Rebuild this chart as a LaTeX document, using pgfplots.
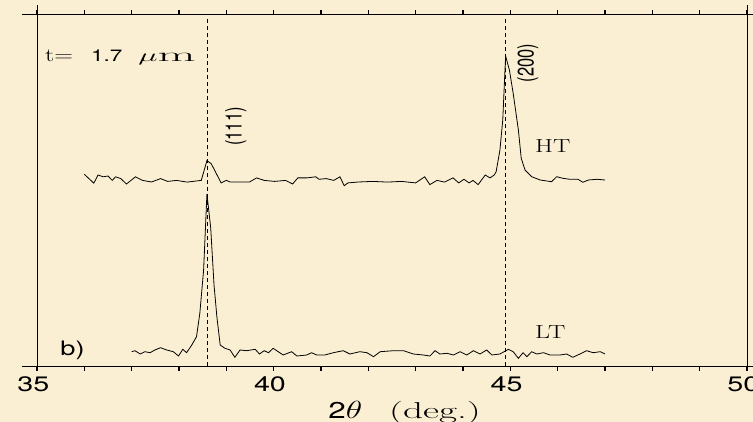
\documentclass[border=0pt]{standalone}
\usepackage{pgfplots}
\pgfplotsset{compat=1.18}
\usepackage{graphicx}
\usepackage{fontspec}
\setmainfont{Latin Modern Roman}[FakeStretch=1.37]
\setsansfont{TeX Gyre Heros}[FakeStretch=1.37]
\newfontfamily\rotsf{TeX Gyre Heros}
\definecolor{paper}{RGB}{250,239,210}
\newcommand{\wide}[1]{\scalebox{1.37}[1]{#1}}

\pgfplotstableread{
x y
36.00 191.7
36.20 182.8
36.29 191.0
36.40 189.2
36.50 190.0
36.59 185.6
36.66 189.2
36.77 187.4
36.89 182.0
37.08 189.2
37.23 185.6
37.42 184.0
37.61 187.4
37.76 184.6
37.95 185.6
38.17 183.9
38.47 185.6
38.59 205.3
38.68 202.4
38.89 183.1
39.00 185.6
39.08 184.0
39.27 184.0
39.49 184.0
39.64 188.1
39.80 185.6
40.02 184.6
40.25 185.6
40.40 182.0
40.51 188.1
40.70 188.1
40.89 189.2
40.96 186.7
41.11 187.4
41.27 185.6
41.40 189.2
41.49 180.3
41.57 183.1
41.79 184.0
42.10 184.6
42.40 183.9
42.70 184.6
43.00 183.1
43.19 189.2
43.30 181.4
43.45 185.6
43.61 183.9
43.79 188.1
43.91 183.1
44.02 186.7
44.13 183.1
44.21 185.6
44.32 181.4
44.47 191.0
44.57 188.1
44.66 191.0
44.70 194.3
44.78 216.0
44.84 246.0
44.90 310.0
44.98 296.0
45.06 272.7
45.17 236.0
45.23 207.7
45.31 196.0
45.45 189.3
45.63 186.0
45.87 184.3
45.98 189.3
46.11 187.7
46.26 186.7
46.43 186.7
46.53 183.7
46.65 186.0
46.83 186.7
47.00 186.0
}\hightemp

\pgfplotstableread{
x y
37.00 14.3
37.07 15.3
37.18 12.0
37.28 14.3
37.39 13.3
37.49 16.0
37.61 18.3
37.74 16.0
37.88 14.3
37.99 10.0
38.08 16.7
38.16 13.3
38.27 21.0
38.37 29.3
38.44 52.7
38.52 96.0
38.59 172.0
38.67 138.0
38.74 81.0
38.80 49.3
38.87 21.0
38.97 17.7
39.08 16.0
39.18 8.7
39.29 16.0
39.43 15.3
39.61 16.7
39.70 12.0
39.80 15.3
39.89 13.3
39.99 17.7
40.20 11.0
40.38 14.3
40.49 10.0
40.70 11.0
40.80 13.3
40.91 11.0
41.08 11.0
41.26 13.3
41.47 15.3
41.61 12.0
41.82 14.3
41.97 13.3
42.11 9.3
42.25 14.3
42.53 15.3
42.74 15.3
42.95 12.0
43.16 11.0
43.30 10.0
43.41 15.3
43.51 12.0
43.66 12.7
43.80 11.0
43.94 14.3
44.08 11.0
44.22 15.3
44.36 12.0
44.50 16.0
44.61 11.0
44.78 12.0
44.96 16.7
45.06 14.3
45.17 7.7
45.27 13.3
45.35 9.3
45.45 14.3
45.56 12.0
45.70 13.3
45.84 11.0
46.05 11.0
46.19 12.0
46.32 8.7
46.47 12.0
46.61 15.3
46.75 13.3
46.90 14.3
47.00 12.0
}\lowtemp

\begin{document}
\begin{tikzpicture}
\fill[paper] (-37bp,-56bp) rectangle (716bp,366bp);
\begin{axis}[
  at={(0,0)}, anchor=south west,
  scale only axis, width=710bp, height=351bp,
  xmin=35, xmax=50, ymin=0, ymax=351,
  clip=false,
  axis line style={line width=1bp},
  xtick={35,40,45,50}, minor x tick num=4,
  ytick=\empty,
  tick align=outside,
  major tick length=4.5bp, minor tick length=4.5bp,
  every tick/.style={black, line width=1.1bp},
  xticklabel pos=lower,
  /pgf/number format/assume math mode=true,
  xticklabel style={font=\fontsize{21}{21}\selectfont\sffamily, xshift=-3.7bp, yshift=-2.5bp},
]
\draw[line width=1bp] ([xshift=-15bp]rel axis cs:0,0) -- ([xshift=6bp]rel axis cs:1,0);
\draw[line width=1bp] ([xshift=-15bp]rel axis cs:0,1) -- ([xshift=6bp]rel axis cs:1,1);
\draw[line width=1bp] (rel axis cs:0,1) -- ([yshift=10bp]rel axis cs:0,1);
\draw[line width=1bp] (rel axis cs:1,1) -- ([yshift=10bp]rel axis cs:1,1);

\addplot[black, line width=0.8bp, dash pattern=on 4bp off 3bp] coordinates {(38.6,0) (38.6,349)};
\addplot[black, line width=0.8bp, dash pattern=on 4bp off 3bp] coordinates {(44.9,0) (44.9,349)};

\addplot[black, line width=0.8bp] table[x=x, y=y] {\hightemp};
\addplot[black, line width=0.8bp] table[x=x, y=y] {\lowtemp};

\node[anchor=base west, inner sep=0pt, font=\fontsize{19}{19}\selectfont] at (axis cs:35.17,304.3)
  {t=\hspace{18bp}{\fontsize{16.5}{16.5}\selectfont\sffamily 1.7}\hspace{16bp}\scalebox{1.9}[1]{$\mu\mathrm{m}$}};
\node[anchor=base west, inner sep=0pt, font=\fontsize{20}{20}\selectfont\sffamily] at (axis cs:35.49,11) {b)};
\node[anchor=base west, inner sep=0pt, font=\fontsize{19}{19}\selectfont] at (axis cs:45.52,213) {HT};
\node[anchor=base west, inner sep=0pt, font=\fontsize{19}{19}\selectfont] at (axis cs:45.52,28) {LT};
\node[inner sep=0pt, font=\fontsize{16.5}{16.5}\selectfont\rotsf] at (axis cs:39.20,239.5)
  {\wide{\rotatebox{90}{(111)}}};
\node[inner sep=0pt, font=\fontsize{16.5}{16.5}\selectfont\rotsf] at (axis cs:45.37,303)
  {\wide{\rotatebox{90}{(200)}}};
\node[anchor=base west, inner sep=0pt, font=\fontsize{23}{23}\selectfont] at (axis cs:41.15,-52)
  {{\sffamily 2}\wide{$\theta$}\hspace{27bp}\scalebox{1.25}[1]{(deg.)}};
\end{axis}
\pgfresetboundingbox
\useasboundingbox (-37bp,-56bp) rectangle (716bp,366bp);
\end{tikzpicture}
\end{document}
